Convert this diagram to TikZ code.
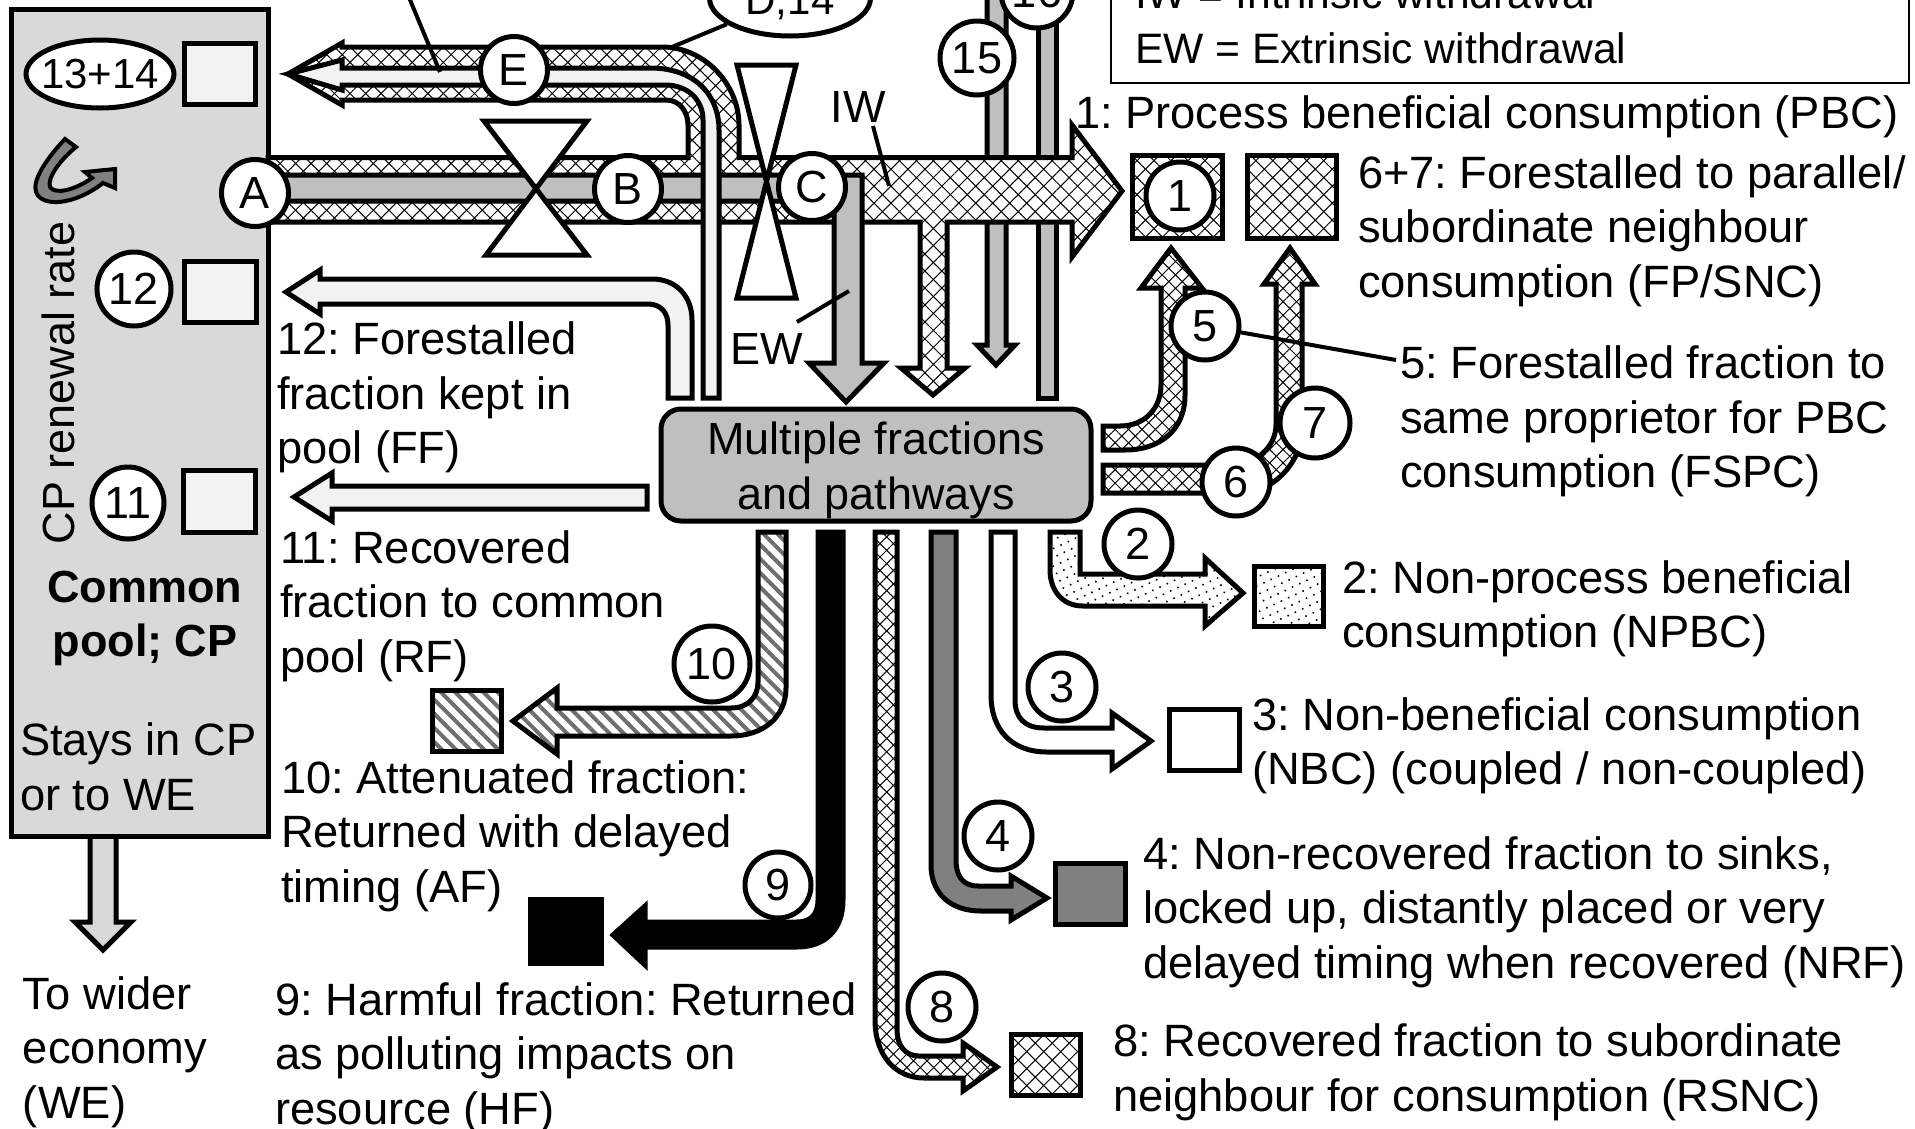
\documentclass[tikz,border=0pt]{standalone}
\usepackage{fontspec}
\setmainfont{Liberation Sans}
\usetikzlibrary{patterns.meta,shapes.geometric}
\definecolor{cpgray}{HTML}{D9D9D9}
\definecolor{midgray}{HTML}{BFBFBF}
\definecolor{dkgray}{HTML}{808080}
\definecolor{stripegray}{HTML}{6E6E6E}
\definecolor{ltgray}{HTML}{F2F2F2}
\AtBeginDocument{\frenchspacing}
\tikzset{
  ar/.style={draw=black,line width=5pt,miter limit=10},
  hatchthin/.style={preaction={fill=white},
    preaction={pattern={Lines[angle=45,distance=9.5pt,line width=1pt]}},
    preaction={pattern={Lines[angle=-45,distance=9.5pt,line width=1pt]}}},
  hatchfine/.style={preaction={fill=white},
    preaction={pattern={Lines[angle=45,distance=11pt,line width=1pt]}},
    preaction={pattern={Lines[angle=-45,distance=11pt,line width=1pt]}}},
  hatchbig/.style={preaction={fill=white},
    preaction={pattern={Lines[angle=45,distance=12pt,line width=1pt]}},
    preaction={pattern={Lines[angle=-45,distance=12pt,line width=1pt]}}},
  stripes/.style={preaction={fill=white},
    preaction={pattern={Lines[angle=-45,distance=10pt,line width=4pt]},pattern color=stripegray}},
  stipple/.style={preaction={fill=white},
    preaction={pattern={Dots[angle=25,distance=8pt,radius=1.1pt]}}},
  circ/.style={circle,draw=black,line width=5pt,fill=white,inner sep=0pt,minimum size=#1,font=\fontsize{45}{50}\selectfont},
  circ/.default=68pt,
  lettr/.style={circ=67pt,font=\fontsize{45}{50}\selectfont},
  sqbase/.style={draw=black,line width=5pt,inner sep=0pt},
  lbl/.style={inner sep=0pt,outer sep=0pt,anchor=base west,align=left,font=\fontsize{45.3}{54.5}\selectfont},
  leglbl/.style={lbl,font=\fontsize{42.6}{54.5}\selectfont},
  leader/.style={draw=black,line width=4pt},
  valve/.style={draw=black,line width=5pt,fill=white,line join=miter},
  ellbase/.style={draw=black,line width=5pt,fill=white,inner sep=0pt,ellipse},
}
\newcommand{\sqbox}[6]{\node[sqbase,#1,minimum width={#4-#3},minimum height={#6-#5}] (#2) at ({(#3+#4)/2},{(#5+#6)/2}) {};}
\newcommand{\mainpath}{(268,157.5) -- (688,157.5) -- (688,125) .. controls (688,112) and (680,100) .. (666,100) -- (342,100) -- (342,105) -- (288,74) -- (342,43) -- (342,47) -- (662,47) .. controls (705,47) and (739,85) .. (739,125) -- (739,157.5) -- (1072,157.5) -- (1072,125) -- (1122,191) -- (1072,257) -- (1072,222) -- (947,222) -- (947,368) -- (965,368) -- (933,395) -- (901,368) -- (920,368) -- (920,222) -- (268,222) -- cycle}
\begin{document}
\begin{tikzpicture}[x=1pt,y=-1pt]
\useasboundingbox (0,0) rectangle (1915,1128);
\clip (0,0) rectangle (1915,1128);
\fill[white] (0,0) rectangle (1915,1128);
% out of the pool
\draw[ar,fill=cpgray] (90,836)--(116,836)--(116,922)--(131,922)--(103,950)--(75,922)--(90,922)--cycle;
% common pool
\node[draw=black,line width=5pt,fill=cpgray,inner sep=0pt,minimum width=257pt,minimum height=827pt] (pool) at (139.5,423) {};
\node[ellbase,minimum width=148pt,minimum height=68pt] (c1314) at (100,74) {\makebox[0pt]{\fontsize{42}{50}\selectfont 13+14}};
\sqbox{fill=ltgray}{s13}{184}{255}{43}{104}
\sqbox{fill=ltgray}{s12}{184}{256}{261}{322}
\sqbox{fill=ltgray}{s11}{183}{255}{470}{532}
\node[circ=74pt] (c12) at (134,289) {12};
\node[circ=72pt] (c11) at (128,503) {11};
\draw[draw=black,line width=4pt,fill=dkgray] (76,147) -- (65,139) .. controls (47,158) and (32,180) .. (36,192) .. controls (42,208) and (75,205) .. (103,183) -- (115,188) -- (115,169) -- (85,172) -- (92,178) .. controls (75,190) and (55,195) .. (50,187) .. controls (47,178) and (60,160) .. (76,147) -- cycle;
\node[inner sep=0pt,rotate=90,font=\fontsize{45}{54}\selectfont] (renew) at (58,383) {CP renewal rate};
\node[inner sep=0pt,align=center,font=\bfseries\fontsize{45}{54}\selectfont] (cpname) at (145,618) {Common\\pool; CP};
\node[lbl] (stays) at (20,810) {Stays in CP\\or to WE};
\node[lbl] (wider) at (23,1118) {To wider\\economy\\(WE)};
% flows behind the main arrow
\draw[ar,fill=midgray] (987,-5)--(987,345)--(977,345)--(996,365)--(1015,345)--(1006,345)--(1006,-5)--cycle;
\draw[ar,fill=midgray] (1038,-5) rectangle (1056,398);
% main hatched arrow
\begin{scope}
\clip \mainpath;
\fill[white] (250,0) rectangle (1150,420);
\path[hatchfine] (250,0) rectangle (830,420);
\path[hatchbig] (830,0) rectangle (1150,420);
\end{scope}
\draw[ar] \mainpath;
% gray flow and extrinsic withdrawal
\draw[ar,fill=midgray] (268,175)--(862,175)--(862,363)--(884,363)--(846,402)--(809,363)--(834,363)--(834,201)--(268,201)--cycle;
% light flow
\draw[ar,fill=ltgray] (288,74)--(342,60)--(342,68)--(650,68) .. controls (695,68) and (719,95) .. (719,130) -- (719,398) -- (703,398) -- (703,120) .. controls (703,100) and (688,85) .. (665,85) -- (342,85) -- (342,90) -- cycle;
% recycled and recovered arrows
\draw[ar,fill=ltgray] (286,292)--(320,270)--(320,279)--(652,279) .. controls (677,279) and (692,297) .. (692,320) -- (692,398) -- (668,398) -- (668,325) .. controls (668,312) and (660,304) .. (648,304) -- (320,304) -- (320,314) -- cycle;
\draw[ar,fill=ltgray] (294,497)--(332,473)--(332,486)--(647,486)--(647,509)--(332,509)--(332,521)--cycle;
% valves
\draw[valve] (484,121)--(587,121)--(486,255)--(587,255)--cycle;
\draw[valve] (737,65)--(796,65)--(737,298)--(796,298)--cycle;
\node[lettr] (cA) at (255,193) {A};
\node[lettr] (cB) at (628,189) {B};
\node[lettr] (cC) at (812,187) {C};
\node[lettr] (cE) at (514,70) {E};
\node[ellbase,minimum width=161pt,minimum height=76pt] (cD) at (790,-2) {\makebox[0pt]{\fontsize{42}{50}\selectfont\raisebox{-16.5pt}[0pt][0pt]{D,14}}};
\node[circ=74pt] (c15) at (977,58) {15};
\node[circ=72pt] (c16) at (1037,-8) {16};
% legend
\draw[line width=2.5pt] (1111,-10) rectangle (1909,83);
\node[leglbl] (leg1) at (1135,8) {IW = Intrinsic withdrawal};
\node[leglbl] (leg2) at (1135,63) {EW = Extrinsic withdrawal};
% leaders
\coordinate (eEnd) at (440,72);
\coordinate (eStart) at (408,-5);
\coordinate (dEnd) at (672,47);
\coordinate (iwEnd) at (889,186);
\coordinate (ewEnd) at (849,291);
\coordinate (l5End) at (1396,360);
\draw[leader] (eStart) -- (eEnd);
\draw[leader] (cD) -- (dEnd);
\node[font=\fontsize{45}{54}\selectfont,inner sep=0pt] (iw) at (858,107) {IW};
\node[font=\fontsize{45}{54}\selectfont,inner sep=0pt] (ew) at (767,349) {EW};
\coordinate (iwStart) at (873,126);
\coordinate (ewStart) at (797,322);
\draw[leader] (iwStart) -- (iwEnd);
\draw[leader] (ewStart) -- (ewEnd);
% target squares
\sqbox{hatchbig}{s1}{1132.5}{1222.5}{155.5}{238.5}
\sqbox{hatchbig}{s67}{1247}{1336}{155.5}{238}
\node[circ=68pt] (c1) at (1180,196) {1};
% central box
\node[draw=black,line width=5pt,fill=midgray,rounded corners=20pt,inner sep=0pt,minimum width=430pt,minimum height=112pt] (mf) at (876,465) {};
\node[inner sep=0pt,align=center,font=\fontsize{45}{54.5}\selectfont] (mftext) at (876,470.5) {Multiple fractions\\and pathways};
% arrows 5 and 6+7
\draw[ar,hatchthin] (1103,426) -- (1120,426) .. controls (1145,426) and (1161,408) .. (1161,385) -- (1161,288) -- (1141,288) -- (1171,248) -- (1202,288) -- (1185,288) -- (1185,395) .. controls (1185,430) and (1160,450) .. (1125,450) -- (1103,450) -- cycle;
\draw[ar,hatchthin] (1103,465)--(1230,465) .. controls (1258,465) and (1276,445) .. (1276,425) -- (1276,284) -- (1264,284) -- (1290,248) -- (1315,284) -- (1302,284) -- (1302,430) .. controls (1302,460) and (1275,493) .. (1240,493) -- (1103,493) -- cycle;
\node[circ=68pt] (c5) at (1205,326) {5};
\node[circ=68pt] (c6) at (1236,482) {6};
\node[circ=70pt] (c7) at (1315,423) {7};
% outflows
\draw[ar,stripes] (758,532)--(786,532)--(786,688) .. controls (786,718) and (762,736) .. (731,736) -- (557,736) -- (557,754) -- (513,721) -- (557,688) -- (557,708) -- (731,708) .. controls (748,708) and (758,697) .. (758,682) -- cycle;
\draw[ar,fill=black] (818,532)--(843,532)--(843,900) .. controls (843,930) and (825,947) .. (797,947) -- (645,947) -- (645,965) -- (613,935) -- (645,906) -- (645,922) -- (797,922) .. controls (810,922) and (818,915) .. (818,900) -- cycle;
\draw[ar,hatchthin] (875,532)--(897,532)--(897,1030) .. controls (897,1045) and (905,1056) .. (919,1056) -- (963,1056) -- (963,1043) -- (997,1067) -- (963,1091) -- (963,1078) -- (924,1078) .. controls (895,1078) and (875,1055) .. (875,1020) -- cycle;
\draw[ar,fill=dkgray] (931,532)--(956,532)--(956,860) .. controls (956,875) and (962,886) .. (978,886) -- (1011,886) -- (1011,876) -- (1047,898) -- (1011,920) -- (1011,911) -- (981,911) .. controls (950,911) and (931,893) .. (931,865) -- cycle;
\draw[ar,fill=white] (991,532)--(1015,532)--(1015,700) .. controls (1015,718) and (1025,728) .. (1044,728) -- (1112,728) -- (1112,713) -- (1151,741) -- (1112,769) -- (1112,752) -- (1047,752) .. controls (1012,752) and (991,730) .. (991,695) -- cycle;
\draw[ar,stipple] (1050,532)--(1080,532)--(1080,574) -- (1205,574) -- (1205,558) -- (1243,593) -- (1205,626) -- (1205,606) -- (1083,606) .. controls (1062,606) and (1050,590) .. (1050,570) -- cycle;
\sqbox{stipple}{s2}{1254}{1323}{566}{626}
\sqbox{fill=white}{s3}{1169}{1239}{709}{770}
\sqbox{fill=dkgray}{s4}{1055}{1125}{863}{924}
\sqbox{hatchbig}{s8}{1011}{1080}{1034}{1095}
\sqbox{fill=black}{s9}{530}{601}{899}{963}
\sqbox{stripes}{s10}{432}{501}{690}{751}
\node[circ=68pt] (c2) at (1138,544) {2};
\node[circ=68pt] (c3) at (1062,687) {3};
\node[circ=68pt] (c4) at (998,836) {4};
\node[circ=68pt] (c8) at (942,1007) {8};
\node[circ=66pt] (c9) at (778,885) {9};
\node[circ=76pt] (c10) at (712,664) {10};
% texts
\node[lbl] (t1) at (1075,128) {1: Process beneficial consumption (PBC)};
\node[lbl] (t67) at (1358,297) {6+7: Forestalled to parallel/\\subordinate neighbour\\consumption (FP/SNC)};
\node[lbl] (t5) at (1400,487.5) {5: Forestalled fraction to\\same proprietor for PBC\\consumption (FSPC)};
\draw[leader] (c5) -- (l5End);
\node[lbl] (t2) at (1342,647.5) {2: Non-process beneficial\\consumption (NPBC)};
\node[lbl] (t3) at (1252,784.5) {3: Non-beneficial consumption\\(NBC) (coupled / non-coupled)};
\node[lbl] (t4) at (1143,978) {4: Non-recovered fraction to sinks,\\locked up, distantly placed or very\\delayed timing when recovered (NRF)};
\node[lbl] (t8) at (1113,1111) {8: Recovered fraction to subordinate\\neighbour for consumption (RSNC)};
\node[lbl] (t12) at (277,463.5) {12: Forestalled\\fraction kept in\\pool (FF)};
\node[lbl] (t11) at (280,672) {11: Recovered\\fraction to common\\pool (RF)};
\node[lbl] (t10) at (281,902) {10: Attenuated fraction:\\Returned with delayed\\timing (AF)};
\node[lbl] (t9) at (275,1124) {9: Harmful fraction: Returned\\as polluting impacts on\\resource (HF)};
\end{tikzpicture}
\end{document}
